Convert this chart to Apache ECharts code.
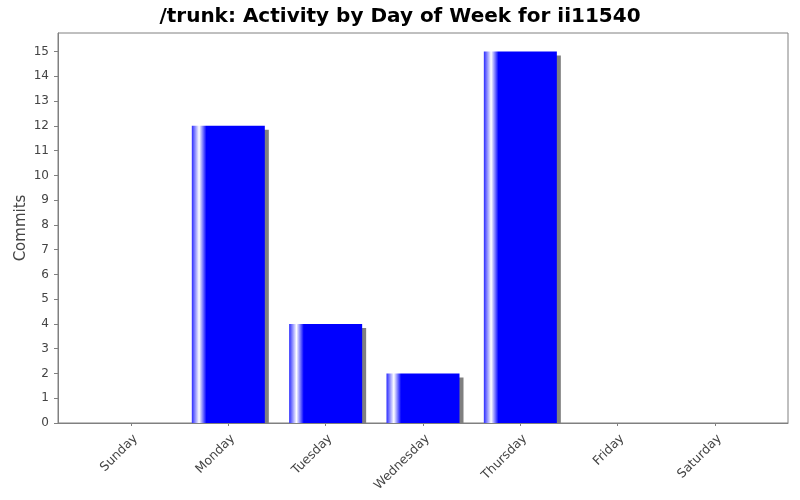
<!DOCTYPE html>
<html>
<head>
<meta charset="utf-8">
<script src="https://cdn.jsdelivr.net/npm/echarts@6/dist/echarts.min.js"></script>
<style>
  html, body { margin: 0; padding: 0; background: #fff; }
  #main { width: 800px; height: 500px; }
</style>
</head>
<body>
<div id="main"></div>
<script>
var days = ['Sunday', 'Monday', 'Tuesday', 'Wednesday', 'Thursday', 'Friday', 'Saturday'];
var commits = [0, 12, 4, 2, 15, 0, 0];
var yTicks = [0, 1, 2, 3, 4, 5, 6, 7, 8, 9, 10, 11, 12, 13, 14, 15];
var yMax = 15.75;

var chart = echarts.init(document.getElementById('main'));
var font = 'DejaVu Sans';

var barFill = new echarts.graphic.LinearGradient(0, 0, 1, 0, [
  { offset: 0, color: '#2b2bff' },
  { offset: 0.1, color: '#ffffff' },
  { offset: 0.2, color: '#0000ff' },
  { offset: 1, color: '#0000ff' }
]);

// bar + drop shadow, shadow cut at the plot bottom like the original
function renderBar(params, api) {
  var v = api.value(1);
  if (!v) return null;
  var idx = api.value(0);
  var band = api.size([1, 0])[0];
  var w = band * 0.75;
  var top = api.coord([idx, v]);
  var base = api.coord([idx, 0]);
  var x0 = top[0] - w / 2;
  var h = base[1] - top[1];
  return {
    type: 'group',
    children: [
      { type: 'rect', shape: { x: x0 + 4, y: top[1] + 4, width: w, height: h - 4 },
        style: { fill: '#808080' } },
      { type: 'rect', shape: { x: x0, y: top[1], width: w, height: h },
        style: { fill: barFill } }
    ]
  };
}

var option = {
  animation: false,
  backgroundColor: '#ffffff',
  title: {
    text: '/trunk: Activity by Day of Week for ii11540',
    left: 'center',
    top: 2,
    textStyle: { fontFamily: font, fontSize: 20, fontWeight: 'bold', color: '#000' }
  },
  grid: [
    // plot frame
    { left: 58, right: 12, top: 33, bottom: 77, show: true, outerBoundsMode: 'none',
      borderColor: '#808080', borderWidth: 1, backgroundColor: '#fff' },
    // bar area (category margins inside the frame)
    { left: 82.3, right: 36.3, top: 33, bottom: 77, outerBoundsMode: 'none' }
  ],
  xAxis: [
    { gridIndex: 0, type: 'value', min: 0, max: 1, offset: 4,
      axisLine: { show: true, lineStyle: { color: '#808080' } },
      axisTick: { show: false }, axisLabel: { show: false }, splitLine: { show: false } },
    { gridIndex: 1, type: 'category', data: days, offset: 4,
      axisLine: { show: false },
      axisTick: { show: true, alignWithLabel: true, length: 3, lineStyle: { color: '#808080' } },
      axisLabel: { rotate: 45, margin: 5, verticalAlign: 'top',
        fontFamily: font, fontSize: 12.5, color: '#444' } }
  ],
  yAxis: [
    { gridIndex: 0, type: 'value', min: 0, max: yMax, offset: 3,
      name: 'Commits', nameLocation: 'middle', nameGap: 26, nameRotate: 90,
      nameMoveOverlap: false,
      nameTextStyle: { fontFamily: font, fontSize: 15, color: '#444' },
      axisLine: { show: true, lineStyle: { color: '#808080' } },
      axisTick: { show: true, length: 4, customValues: yTicks, lineStyle: { color: '#808080' } },
      axisLabel: { customValues: yTicks, margin: 6, fontFamily: font, fontSize: 12, color: '#444' },
      splitLine: { show: false } },
    { gridIndex: 1, type: 'value', min: 0, max: yMax, show: false }
  ],
  series: [{
    type: 'custom',
    xAxisIndex: 1,
    yAxisIndex: 1,
    renderItem: renderBar,
    encode: { x: 0, y: 1 },
    data: commits.map(function (v, i) { return [i, v]; })
  }]
};

chart.setOption(option);
window.addEventListener('resize', chart.resize);
</script>
</body>
</html>
